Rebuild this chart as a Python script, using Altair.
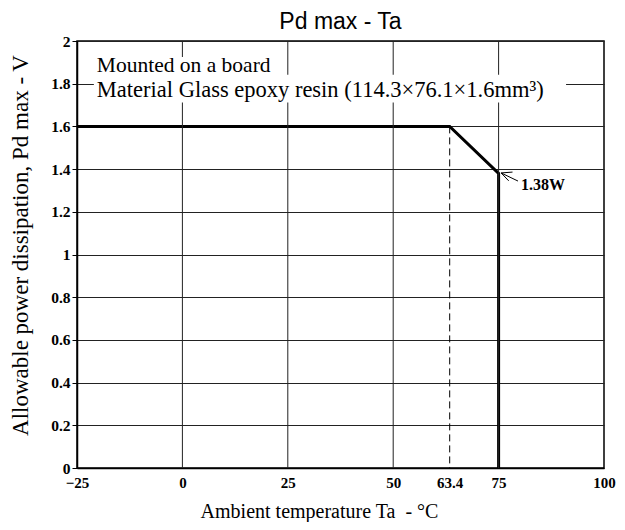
import altair as alt
import pandas as pd

# Curve data
curve_ta = [-25, 63.4, 75, 75]
curve_pd = [1.6, 1.6, 1.38, 0]

x_ticks = [-25, 0, 25, 50, 63.4, 75, 100]
x_grid = [0, 25, 50, 75]
y_ticks = [0, 0.2, 0.4, 0.6, 0.8, 1.0, 1.2, 1.4, 1.6, 1.8, 2.0]

derate_x = [63.4]
derate_top = [1.6]

note1 = ["Mounted on a board"]
note2 = ["Material Glass epoxy resin (114.3×76.1×1.6mm³)"]
note_x = -20.3
note1_y = 1.857
note2_y = 1.740
# white backgrounds behind note lines
box_x = [-21.0, -21.0]
box_x2 = [23.0, 91.0]
box_y = [1.925, 1.842]
box_y2 = [1.83, 1.712]

label_text = ["1.38W"]
label_x = [80.3]
label_y = [1.325]
# arrow segments: shaft and two barbs (tail -> tip)
arrow_seg = [0, 0, 1, 1, 2, 2]
arrow_x = [79.6, 75.6, 78.3, 75.6, 77.4, 75.6]
arrow_y = [1.344, 1.382, 1.386, 1.382, 1.345, 1.382]

SERIF = "Liberation Serif"

xs = alt.Scale(domain=[-25, 100], nice=False, zero=False)
ys = alt.Scale(domain=[0, 2], nice=False)

curve_df = pd.DataFrame({"Ta": curve_ta, "Pd": curve_pd, "i": range(len(curve_ta))})
grid_df = pd.DataFrame({"Ta": x_grid})
dash_df = pd.DataFrame({"Ta": derate_x, "top": derate_top})
n1_df = pd.DataFrame({"t": note1})
n2_df = pd.DataFrame({"t": note2})
box_df = pd.DataFrame({"x": box_x, "x2": box_x2, "y": box_y, "y2": box_y2})
lab_df = pd.DataFrame({"t": label_text, "x": label_x, "y": label_y})
arr_df = pd.DataFrame({"seg": arrow_seg, "x": arrow_x, "y": arrow_y, "i": range(len(arrow_x))})

base_x = alt.X(
    "Ta:Q", scale=xs,
    axis=alt.Axis(
        values=x_ticks, title="Ambient temperature Ta\u00a0 - °C", grid=False,
        labelExpr="datum.value < 0 ? '\u2212' + abs(datum.value) : '' + datum.value",
        tickSize=0, labelPadding=7, titlePadding=11, titleX=242,
        labelFont=SERIF, labelFontSize=15, labelFontWeight="bold", labelColor="black",
        titleFont=SERIF, titleFontSize=20, titleFontWeight="normal", titleColor="black",
        domainColor="black", domainWidth=1.5, labelFlush=False,
    ),
)
base_y = alt.Y(
    "Pd:Q", scale=ys,
    axis=alt.Axis(
        values=y_ticks, format=".1~f", title="Allowable power dissipation, Pd max - V",
        grid=True, gridColor="#222", gridWidth=1, gridOpacity=1,
        tickSize=5, tickColor="black", labelPadding=2, titlePadding=18, titleY=204,
        labelFont=SERIF, labelFontSize=15.5, labelFontWeight="bold", labelColor="black",
        titleFont=SERIF, titleFontSize=23, titleFontWeight="normal", titleColor="black",
        domainColor="black", domainWidth=1.5, labelFlush=False,
    ),
)

grid = alt.Chart(grid_df).mark_rule(color="#222", strokeWidth=1).encode(
    x=alt.X("Ta:Q", scale=xs)
)

dash = alt.Chart(dash_df).mark_rule(color="black", strokeWidth=1, strokeDash=[7, 4]).encode(
    x=alt.X("Ta:Q", scale=xs),
    y=alt.Y("top:Q", scale=ys),
    y2=alt.datum(0),
)

boxes = alt.Chart(box_df).mark_rect(color="white").encode(
    x=alt.X("x:Q", scale=xs), x2="x2:Q",
    y=alt.Y("y:Q", scale=ys), y2="y2:Q",
)

n1 = alt.Chart(n1_df).mark_text(
    align="left", baseline="alphabetic", font=SERIF, fontSize=21.5, color="black"
).encode(x=alt.datum(note_x, scale=xs), y=alt.datum(note1_y, scale=ys), text="t:N")

n2 = alt.Chart(n2_df).mark_text(
    align="left", baseline="alphabetic", font=SERIF, fontSize=22.5, color="black"
).encode(x=alt.datum(note_x, scale=xs), y=alt.datum(note2_y, scale=ys), text="t:N")

curve = alt.Chart(curve_df).mark_line(color="black", strokeWidth=3, strokeJoin="miter").encode(
    x=base_x, y=base_y, order="i:Q"
)

arrow = alt.Chart(arr_df).mark_line(color="black", strokeWidth=1).encode(
    x=alt.X("x:Q", scale=xs), y=alt.Y("y:Q", scale=ys), detail="seg:N", order="i:Q"
)

lab = alt.Chart(lab_df).mark_text(
    align="left", baseline="middle", font=SERIF, fontSize=16, fontWeight="bold", color="black"
).encode(x=alt.X("x:Q", scale=xs), y=alt.Y("y:Q", scale=ys), text="t:N")

chart = alt.layer(curve, grid, dash, boxes, n1, n2, arrow, lab).properties(
    width=527, height=427,
    title=alt.TitleParams("Pd max - Ta", font="Liberation Sans", fontSize=23,
                          fontWeight="normal", color="black", anchor="middle", offset=0),
    padding={"left": 69, "top": 33, "right": 12, "bottom": 54},
    autosize=alt.AutoSizeParams(type="none"),
).configure_view(stroke="black", strokeWidth=1.5)

chart.save("out.html", embed_options={"renderer": "svg", "actions": False})
